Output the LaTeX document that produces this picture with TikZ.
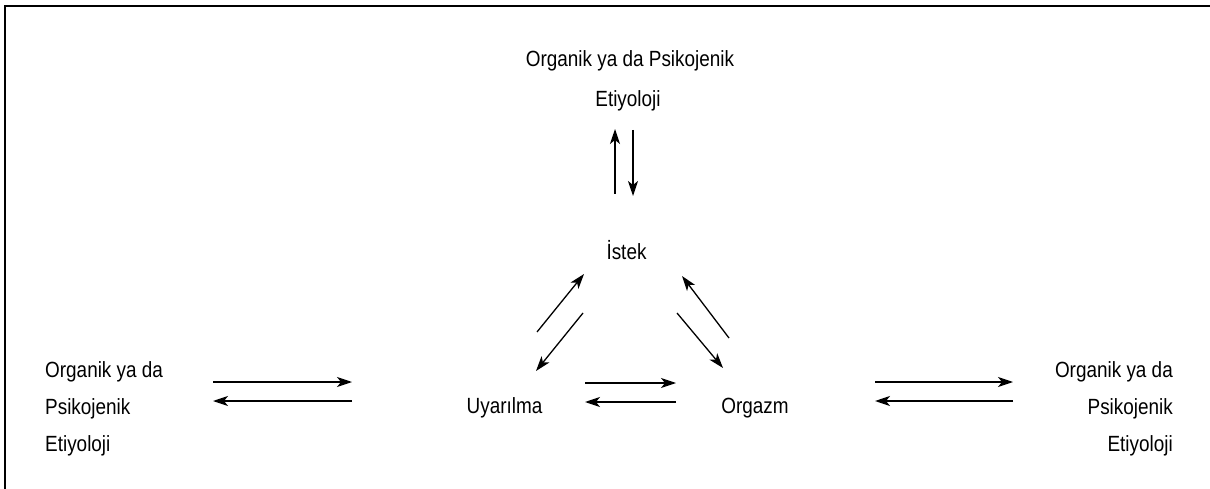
\documentclass[tikz,border=0pt]{standalone}
\usepackage{fontspec}
\setmainfont{Liberation Sans}[FakeStretch=0.86]
\usetikzlibrary{arrows.meta}
\begin{document}
\begin{tikzpicture}[x=1pt,y=-1pt,
  lbl/.style={inner sep=0pt, font=\fontsize{22}{26}\selectfont},
  conn/.style={line width=1.3pt, -{Stealth[length=15pt,width=10pt,inset=4pt]}},
  frameline/.style={line width=1.3pt}]
\useasboundingbox (0,0) rectangle (1210,489);
% frame (top and left edges visible)
\coordinate (fTL) at (5,6);
\coordinate (fTR) at (1212,6);
\coordinate (fBL) at (5,491);
\draw[frameline] (fTR) -- (fTL) -- (fBL);
% top text
\node[lbl, anchor=base] (top1) at (630,67) {Organik ya da Psikojenik};
\node[lbl, anchor=base] (top2) at (628,107) {Etiyoloji};
% center nodes
\node[lbl, anchor=base] (istek) at (626.5,259) {İstek};
\node[lbl, anchor=base] (uyar) at (504.5,413) {Uyarılma};
\node[lbl, anchor=base] (orgazm) at (755,413) {Orgazm};
% left text
\node[lbl, anchor=base west] (l1) at (45,377) {Organik ya da};
\node[lbl, anchor=base west] (l2) at (45,414) {Psikojenik};
\node[lbl, anchor=base west] (l3) at (45,451) {Etiyoloji};
% right text
\node[lbl, anchor=base east] (r1) at (1173,377) {Organik ya da};
\node[lbl, anchor=base east] (r2) at (1173,414) {Psikojenik};
\node[lbl, anchor=base east] (r3) at (1173,451) {Etiyoloji};
% arrow end coordinates
\coordinate (tu1) at (615,194); \coordinate (tu2) at (615,129);
\coordinate (td1) at (633,130); \coordinate (td2) at (633,196);
\coordinate (lu1) at (537,332); \coordinate (lu2) at (584,274);
\coordinate (ld1) at (583,313); \coordinate (ld2) at (536,371);
\coordinate (ru1) at (729,338); \coordinate (ru2) at (682,276);
\coordinate (rd1) at (677,313); \coordinate (rd2) at (723,368);
\coordinate (mr1) at (585,383); \coordinate (mr2) at (676,383);
\coordinate (ml1) at (676,402); \coordinate (ml2) at (585,402);
\coordinate (Lr1) at (213,382); \coordinate (Lr2) at (352,382);
\coordinate (Ll1) at (352,401); \coordinate (Ll2) at (213,401);
\coordinate (Rr1) at (875,382); \coordinate (Rr2) at (1013,382);
\coordinate (Rl1) at (1013,401); \coordinate (Rl2) at (875,401);
% arrows
\draw[conn] (tu1) -- (tu2);
\draw[conn] (td1) -- (td2);
\draw[conn] (lu1) -- (lu2);
\draw[conn] (ld1) -- (ld2);
\draw[conn] (ru1) -- (ru2);
\draw[conn] (rd1) -- (rd2);
\draw[conn] (mr1) -- (mr2);
\draw[conn] (ml1) -- (ml2);
\draw[conn] (Lr1) -- (Lr2);
\draw[conn] (Ll1) -- (Ll2);
\draw[conn] (Rr1) -- (Rr2);
\draw[conn] (Rl1) -- (Rl2);
\end{tikzpicture}
\end{document}
